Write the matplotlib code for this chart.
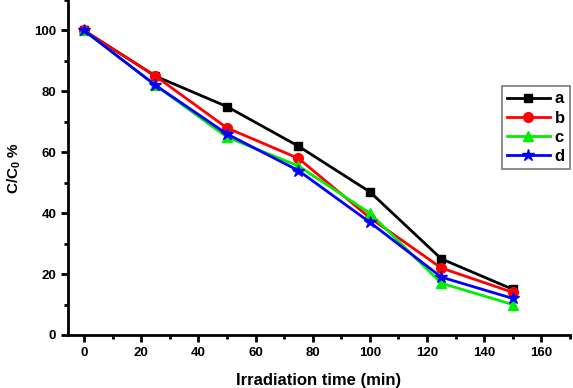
import matplotlib
matplotlib.use("Agg")
import matplotlib.pyplot as plt
from matplotlib.ticker import MultipleLocator

time_min = [0, 25, 50, 75, 100, 125, 150]
series_a = [100, 85, 75, 62, 47, 25, 15]
series_b = [100, 85, 68, 58, 38.5, 22, 14]
series_c = [100, 82, 65, 55.5, 40, 17, 10]
series_d = [100, 82, 66, 54, 37, 19, 12]
labels = ["a", "b", "c", "d"]

plt.rcParams['font.family'] = ['Liberation Sans', 'DejaVu Sans']
plt.rcParams['mathtext.fontset'] = 'custom'
plt.rcParams['mathtext.rm'] = 'Liberation Sans:bold'
plt.rcParams['mathtext.it'] = 'Liberation Sans:bold'
plt.rcParams['mathtext.default'] = 'rm'

fig = plt.figure(figsize=(5.73, 3.88), dpi=100)
ax = fig.add_axes([0.1187, 0.1366, 0.876, 0.8634])

styles = [("black", "s", 6), ("red", "o", 7), ("#00ee00", "^", 7), ("blue", "*", 9)]
for ys, lab, (c, m, ms) in zip([series_a, series_b, series_c, series_d], labels, styles):
    ax.plot(time_min, ys, color=c, marker=m, markersize=ms, linewidth=2, label=lab)

ax.set_xlim(-5.6, 170)
ax.set_ylim(0, 110)
ax.xaxis.set_major_locator(MultipleLocator(20))
ax.xaxis.set_minor_locator(MultipleLocator(10))
ax.yaxis.set_major_locator(MultipleLocator(20))
ax.yaxis.set_minor_locator(MultipleLocator(10))
for s in ['top', 'right']:
    ax.spines[s].set_visible(False)
for s in ['left', 'bottom']:
    ax.spines[s].set_linewidth(2)
ax.tick_params(which='major', length=5, width=2, labelsize=9.5)
ax.tick_params(which='minor', length=3, width=2)
for t in ax.get_xticklabels() + ax.get_yticklabels():
    t.set_fontweight('bold')

ax.set_xlabel("Irradiation time (min)", fontsize=12, fontweight='bold', labelpad=10)
ax.set_ylabel("C/C$_0$ %", fontsize=11, fontweight='bold', labelpad=8)

leg = ax.legend(loc='upper right', bbox_to_anchor=(1.0, 0.742), frameon=True, fancybox=False,
                edgecolor='#555555', fontsize=12, handlelength=2.6, borderpad=0.3,
                labelspacing=0.25, handletextpad=0.3, borderaxespad=0)
for t in leg.get_texts():
    t.set_fontweight('bold')
leg.get_frame().set_linewidth(1.2)

fig.savefig("out.png", dpi=100)
